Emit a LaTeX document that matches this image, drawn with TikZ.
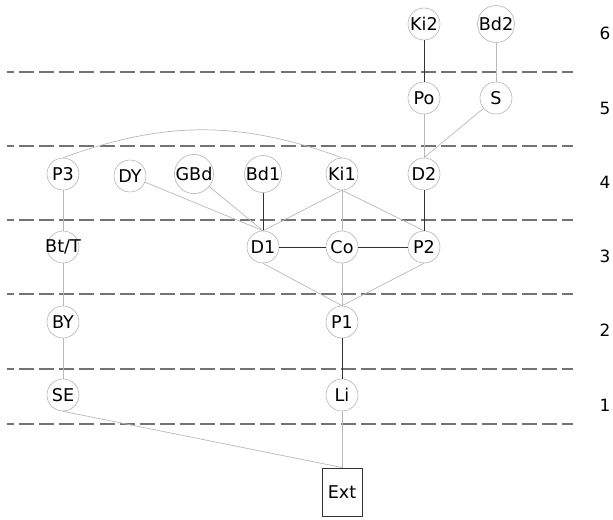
\documentclass[tikz,border=0pt]{standalone}
\usepackage{fontspec}
\setmainfont{DejaVu Sans}
\usetikzlibrary{arrows.meta, calc, shapes, positioning}

\begin{document}
\begin{tikzpicture}[x=0.025cm, y=-0.025cm,
		lvl/.style={circle, draw=gray!60, fill=white, minimum size=0.8cm, inner sep=0pt, font=\fontsize{12.5}{14}\selectfont},
		light/.style={gray!55, line width=0.5pt},
		dark/.style={black!80, line width=0.7pt},
		sep/.style={black!55, line width=1.1pt, dash pattern=on 10.7pt off 3.6pt, dash phase=5.7pt}]
			\useasboundingbox (0,0) rectangle (613,520);
			
			% Level separators
			\foreach \y in {72, 146, 220, 294, 369, 424}
				\draw[sep] (7,\y) -- (573,\y);
			
			% Level numbers
			\foreach \n/\y in {6/33, 5/108, 4/182, 3/256, 2/330, 1/405}
				\node[font=\fontsize{12}{14}\selectfont] (num\n) at (605,\y) {\n};
			
			% Level 6 and 5
			\node[lvl] (Ki2) at (424,24) {Ki2};
			\node[lvl] (Bd2) at (496,24) {Bd2};
			\node[lvl] (Po) at (424,98) {Po};
			\node[lvl] (S) at (496,98) {S};
			
			% Level 4
			\node[lvl] (P3) at (63,174) {P3};
			\node[lvl] (DY) at (130,176) {DY};
			\node[lvl] (GBd) at (194,174) {GBd};
			\node[lvl] (Bd1) at (263,174) {Bd1};
			\node[lvl] (Ki1) at (342,174) {Ki1};
			\node[lvl] (D2) at (424,174) {D2};
			
			% Level 3
			\node[lvl] (BtT) at (63,247) {\makebox[0pt]{Bt/T}};
			\node[lvl] (D1) at (263,247) {D1};
			\node[lvl] (Co) at (342,247) {Co};
			\node[lvl] (P2) at (424,247) {P2};
			
			% Level 2 and 1
			\node[lvl] (BY) at (63,322) {BY};
			\node[lvl] (P1) at (342,322) {P1};
			\node[lvl] (SE) at (63,395) {SE};
			\node[lvl] (Li) at (342,395) {Li};
			
			% Outside
			\node[draw=black!80, line width=0.7pt, minimum width=1cm, minimum height=1.2cm, inner sep=0pt, font=\fontsize{12.5}{14}\selectfont] (Ext) at (342,492) {Ext};
			
			% Links
			\draw[dark] (Ki2) -- (Po);
			\draw[light] (Bd2) -- (S);
			\draw[light] (Po) -- (D2);
			\draw[light] (S) -- (D2.north);
			\draw[light] (P3.north) to[out=20, in=160] (Ki1.north);
			\draw[light] (P3) -- (BtT);
			\draw[light] (DY) -- (D1.north);
			\draw[light] (GBd) -- (D1.north);
			\draw[dark] (Bd1) -- (D1);
			\draw[light] (Ki1.south) -- (D1.north);
			\draw[light] (Ki1) -- (Co);
			\draw[light] (Ki1.south) -- (P2.north);
			\draw[dark] (D2) -- (P2);
			\draw[dark] (D1) -- (Co);
			\draw[dark] (Co) -- (P2);
			\draw[light] (D1.south) -- (P1.north);
			\draw[light] (Co) -- (P1);
			\draw[light] (P2.south) -- (P1.north);
			\draw[dark] (P1) -- (Li);
			\draw[light] (BtT) -- (BY);
			\draw[light] (BY) -- (SE);
			\draw[light] (SE.south) -- (Ext.north);
			\draw[light] (Li) -- (Ext);
		\end{tikzpicture}
\end{document}
